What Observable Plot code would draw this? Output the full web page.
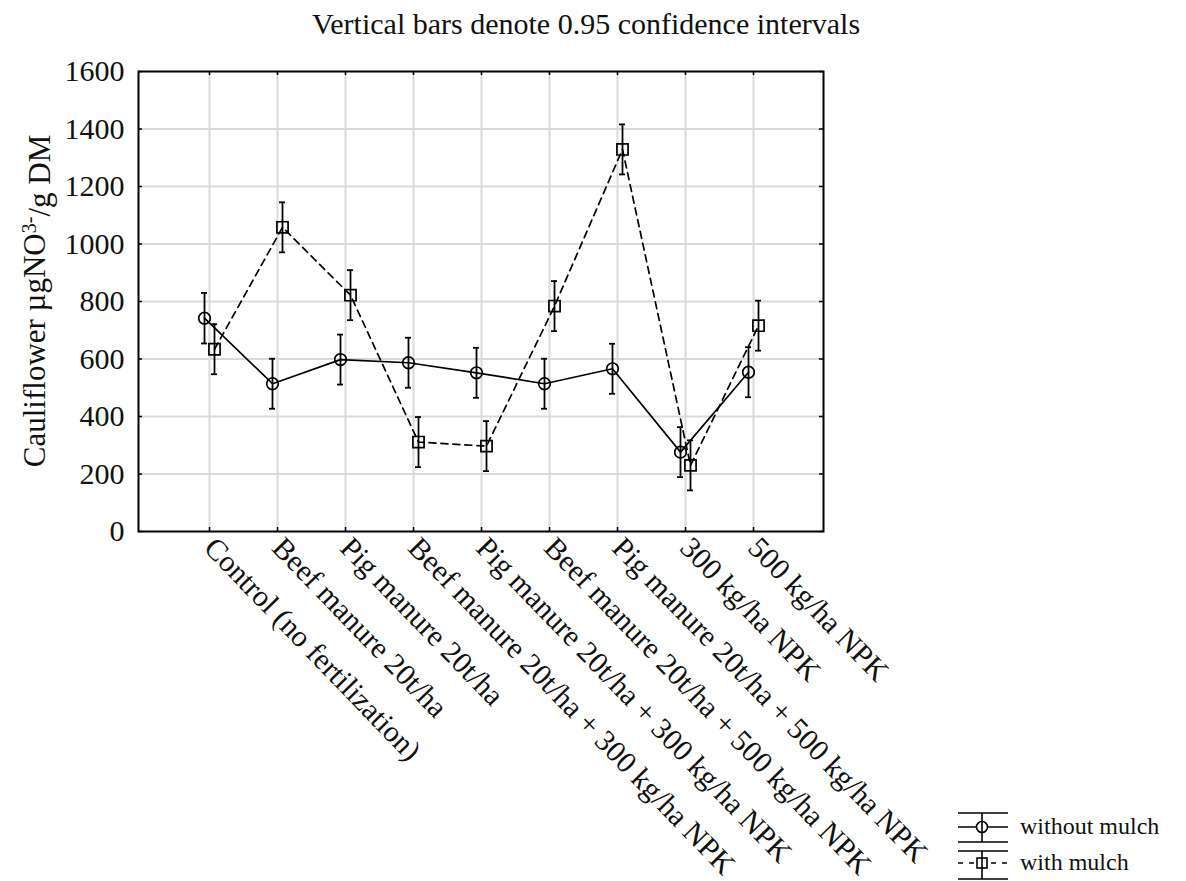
<!DOCTYPE html>
<html>
<head>
<meta charset="utf-8">
<script src="https://cdn.jsdelivr.net/npm/d3@7"></script>
<script src="https://cdn.jsdelivr.net/npm/@observablehq/plot@0.6"></script>
<style>
  html, body { margin: 0; padding: 0; background: white; }
  #wrap { position: relative; width: 1186px; height: 881px; overflow: hidden; font-family: "Liberation Serif", "Times New Roman", serif; }
  #title { position: absolute; left: 586px; top: 9px; transform: translateX(-50%); white-space: nowrap; font-size: 30px; line-height: 30px; color: #111; }
  #chart { position: absolute; left: 0; top: 55px; }
  #legend { position: absolute; left: 940px; top: 805px; }
</style>
</head>
<body>
<div id="wrap">
  <div id="chart"></div>
  <div id="title">Vertical bars denote 0.95 confidence intervals</div>
  <svg id="legend" width="246" height="76"></svg>
</div>
<script>
// ---- data ----
const categories = [
  "Control (no fertilization)",
  "Beef manure 20t/ha",
  "Pig manure 20t/ha",
  "Beef manure 20t/ha + 300 kg/ha NPK",
  "Pig manure 20t/ha + 300 kg/ha NPK",
  "Beef manure 20t/ha + 500 kg/ha NPK",
  "Pig manure 20t/ha + 500 kg/ha NPK",
  "300 kg/ha NPK",
  "500 kg/ha NPK"
];
const withoutMulch = [742, 514, 598, 587, 552, 514, 566, 276, 554];
const withoutMulchCI = [88, 87, 87, 87, 87, 87, 87, 87, 87];
const withMulch = [634, 1058, 822, 311, 297, 784, 1329, 230, 716];
const withMulchCI = [87, 87, 87, 87, 87, 87, 87, 87, 87];
const yTicks = [0, 200, 400, 600, 800, 1000, 1200, 1400, 1600];
const seriesNames = ["without mulch", "with mulch"];

const rowsWithout = categories.map((c, i) => ({cat: c, value: withoutMulch[i], ci: withoutMulchCI[i]}));
const rowsWith = categories.map((c, i) => ({cat: c, value: withMulch[i], ci: withMulchCI[i]}));

const W = 685, H = 460; // frame size in px
const lo = d => d.value - d.ci;
const hi = d => d.value + d.ci;
const FONT = "Liberation Serif, Times New Roman, serif";

function seriesMarks(rows, dx, symbol, r, dash) {
  return [
    Plot.line(rows, {x: "cat", y: "value", dx, stroke: "black", strokeWidth: 1.7, strokeDasharray: dash}),
    Plot.ruleX(rows, {x: "cat", y1: lo, y2: hi, dx, stroke: "black", strokeWidth: 1.8}),
    Plot.ruleY(rows, {x1: "cat", x2: "cat", y: lo, dx, insetLeft: -3, insetRight: -3, stroke: "black", strokeWidth: 1.8}),
    Plot.ruleY(rows, {x1: "cat", x2: "cat", y: hi, dx, insetLeft: -3, insetRight: -3, stroke: "black", strokeWidth: 1.8}),
    Plot.dot(rows, {x: "cat", y: "value", dx, symbol, r, stroke: "black", strokeWidth: 1.7, fill: "none"})
  ];
}

const chart = Plot.plot({
  width: 1186,
  height: 826,
  marginTop: 16,
  marginBottom: 350,
  marginLeft: 138,
  marginRight: 363,
  style: {fontFamily: FONT, fontSize: "30px", background: "white", color: "#111", overflow: "visible"},
  x: {type: "point", domain: categories, padding: 1, tickRotate: 46, tickSize: 0, tickPadding: 11, label: null},
  y: {domain: [0, 1600], ticks: yTicks, tickFormat: d => String(d), tickSize: 0, tickPadding: 14, label: null},
  marks: [
    Plot.ruleY(yTicks.slice(1, -1), {stroke: "#d9d9d9", strokeWidth: 2}),
    Plot.ruleX(categories, {x: d => d, stroke: "#d9d9d9", strokeWidth: 2}),
    Plot.ruleY(yTicks, {y: d => d, insetRight: W - 4, stroke: "black", strokeWidth: 1.5}),
    Plot.ruleY(yTicks, {y: d => d, insetLeft: W - 4, stroke: "black", strokeWidth: 1.5}),
    Plot.ruleX(categories, {x: d => d, insetBottom: H - 4, stroke: "black", strokeWidth: 1.5}),
    Plot.ruleX(categories, {x: d => d, insetTop: H - 4, stroke: "black", strokeWidth: 1.5}),
    ...seriesMarks(rowsWithout, -5, "circle", 5.8, null),
    ...seriesMarks(rowsWith, 5, "square", 6.3, "7,5"),
    Plot.frame({stroke: "black", strokeWidth: 2})
  ]
});
document.getElementById("chart").appendChild(chart);

// y-axis label with superscript
const svg = d3.select(chart);
const lab = svg.append("text")
  .attr("transform", `translate(45, ${301 - 55}) rotate(-90)`)
  .attr("text-anchor", "middle")
  .attr("font-family", FONT)
  .attr("font-size", 31)
  .attr("fill", "#111");
lab.append("tspan").text("Cauliflower µgNO");
lab.append("tspan").attr("dy", "-0.45em").attr("font-size", 20).text("3-");
lab.append("tspan").attr("dy", "0.45em").text("/g DM");

// legend
const lg = d3.select("#legend");
const items = [
  {name: seriesNames[0], symbol: "circle", dash: null, top: 8, mid: 22, bot: 37},
  {name: seriesNames[1], symbol: "square", dash: "5,6", top: 46, mid: 58, bot: 74}
];
items.forEach(it => {
  const g = lg.append("g").attr("stroke", "black").attr("stroke-width", 1.6).attr("fill", "none");
  g.append("line").attr("x1", 18).attr("x2", 68).attr("y1", it.top).attr("y2", it.top);
  g.append("line").attr("x1", 18).attr("x2", 68).attr("y1", it.bot).attr("y2", it.bot);
  g.append("line").attr("x1", 42).attr("x2", 42).attr("y1", it.top).attr("y2", it.bot);
  g.append("line").attr("x1", 18).attr("x2", 68).attr("y1", it.mid).attr("y2", it.mid).attr("stroke-dasharray", it.dash);
  if (it.symbol === "circle") g.append("circle").attr("cx", 42).attr("cy", it.mid).attr("r", 5.5).attr("fill", "white");
  else g.append("rect").attr("x", 37).attr("y", it.mid - 5).attr("width", 10).attr("height", 10).attr("fill", "white");
  g.append("line").attr("x1", 42).attr("x2", 42).attr("y1", it.mid - 5.5).attr("y2", it.mid + 5.5);
  lg.append("text").attr("x", 80).attr("y", it.mid + 7)
    .attr("font-family", FONT).attr("font-size", 24).attr("fill", "#111")
    .text(it.name);
});
</script>
</body>
</html>
